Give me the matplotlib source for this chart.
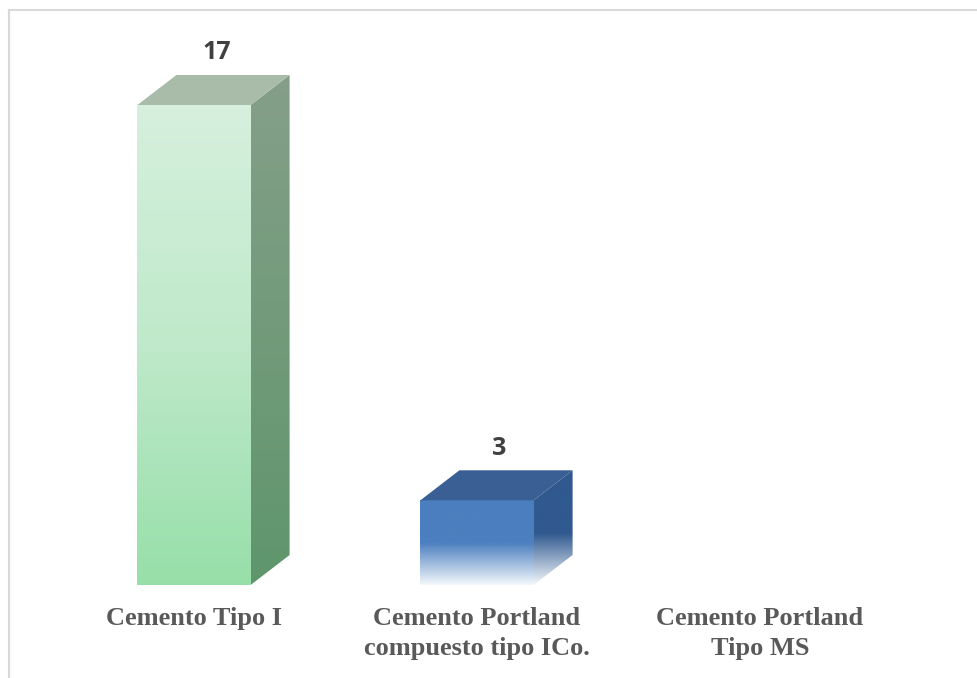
import numpy as np
import matplotlib.pyplot as plt
from matplotlib.patches import Polygon
from matplotlib.lines import Line2D
from matplotlib.colors import to_rgb

categories = ["Cemento Tipo I",
              "Cemento Portland\ncompuesto tipo ICo.",
              "Cemento Portland\nTipo MS"]
values = [17, 3, 0]

# face colours per bar: (front top, front mid, front bottom), side (top, bottom), top face
front_cols = [("#d6f0dd", "#bfe9ca", "#97dfa9"),
              ("#4b7fbf", "#4b7fbf", "#f4f8fc"),
              ("#a0a0a0", "#a0a0a0", "#a0a0a0")]
side_cols = [("#859f89", "#5f966c"),
             ("#30598f", "#f4f8fc"),
             ("#808080", "#808080")]
top_cols = ["#a8bca9", "#3a5f94", "#909090"]

W, H, DPI = 978, 678, 100
x0_px, px_per_cat = 194.0, 283.0     # centre of first bar, spacing between categories
base_px, px_per_unit = 93.0, 480.0 / 17  # zero line from bottom, pixels per count
bar_w = 0.40
dx, dy = 39.0 / px_per_cat, 30.0 / px_per_unit  # 3-D depth offset


def gradient(stops, n=200, split=0.5):
    """vertical colour ramp, top row first"""
    c = [np.array(to_rgb(s)) for s in stops]
    t = np.linspace(0, 1, n)[:, None]
    if len(c) == 2:
        g = c[0] * (1 - t) + c[1] * t
    else:
        g = np.where(t < split, c[0] * (1 - t / split) + c[1] * (t / split),
                     c[1] * (1 - (t - split) / (1 - split)) + c[2] * ((t - split) / (1 - split)))
    return g[:, None, :]


fig = plt.figure(figsize=(W / DPI, H / DPI), dpi=DPI)
ax = fig.add_axes([0, 0, 1, 1])
ax.axis("off")

for i, (cat, v) in enumerate(zip(categories, values)):
    left, right = i - bar_w / 2, i + bar_w / 2
    if v > 0:
        # front face
        ax.imshow(gradient(front_cols[i]), extent=[left, right, 0, v],
                  aspect="auto", interpolation="bilinear", zorder=2)
        # side face
        side = Polygon([(right, 0), (right + dx, dy), (right + dx, v + dy), (right, v)],
                       closed=True, facecolor="none", edgecolor="none")
        ax.add_patch(side)
        if i == 1:
            sc = gradient((side_cols[i][0], side_cols[i][0], side_cols[i][1]), split=0.55)
        else:
            sc = gradient(side_cols[i])
        im = ax.imshow(sc, extent=[right, right + dx, 0, v + dy],
                       aspect="auto", interpolation="bilinear", zorder=1)
        im.set_clip_path(side)
        # top face
        ax.add_patch(Polygon([(left, v), (left + dx, v + dy), (right + dx, v + dy), (right, v)],
                             closed=True, facecolor=top_cols[i], edgecolor="none", zorder=3))
        ax.annotate(str(v), xy=(i + dx / 2, v + dy), xytext=(2, 7), textcoords="offset points",
                    ha="center", va="bottom", fontsize=18, fontweight="bold",
                    family="Open Sans", color="#404040")
    ax.annotate(cat, xy=(i, 0), xytext=(0, -16), textcoords="offset points",
                ha="center", va="top", fontsize=19, fontweight="bold",
                family="Liberation Serif", color="#595959", linespacing=1.4)

ax.set_xlim(-x0_px / px_per_cat, (W - x0_px) / px_per_cat)
ax.set_ylim(-base_px / px_per_unit, (H - base_px) / px_per_unit)

# chart area frame (only top and left edges fall inside the image)
fig.add_artist(Line2D([8.5 / W, 8.5 / W], [0, 1 - 9.5 / H], color="#d9d9d9", lw=1.5))
fig.add_artist(Line2D([8.5 / W, 1], [1 - 9.5 / H, 1 - 9.5 / H], color="#d9d9d9", lw=1.5))

fig.savefig("out.png", dpi=DPI)
